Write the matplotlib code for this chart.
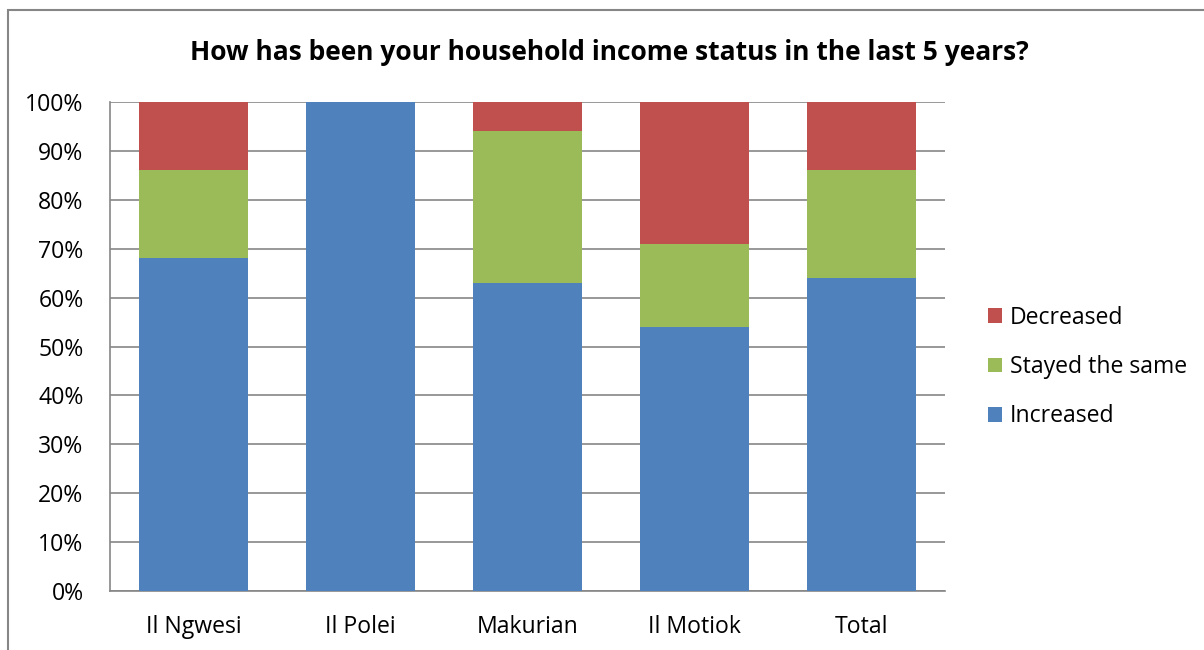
import matplotlib
matplotlib.use("Agg")
import matplotlib.pyplot as plt
import numpy as np
from matplotlib.patches import Rectangle

plt.rcParams['font.family'] = ['Open Sans', 'DejaVu Sans']

categories = ["Il Ngwesi", "Il Polei", "Makurian", "Il Motiok", "Total"]
increased = [68, 100, 63, 54, 64]
stayed = [18, 0, 31, 17, 22]
decreased = [14, 0, 6, 29, 14]

colors = {"Increased": "#4F81BD", "Stayed the same": "#9BBB59", "Decreased": "#C0504D"}

fig = plt.figure(figsize=(12.04, 6.5), dpi=100)
ax = fig.add_axes([110 / 1204, 59 / 650, 835 / 1204, 489 / 650])

x = np.arange(len(categories))
w = 0.65
inc = np.array(increased)
sta = np.array(stayed)
dec = np.array(decreased)
b1 = ax.bar(x, inc, w, color=colors["Increased"], label="Increased", zorder=3)
b2 = ax.bar(x, sta, w, bottom=inc, color=colors["Stayed the same"], label="Stayed the same", zorder=3)
b3 = ax.bar(x, dec, w, bottom=inc + sta, color=colors["Decreased"], label="Decreased", zorder=3)

ax.set_xlim(-0.5, len(categories) - 0.5)
ax.set_ylim(0, 100)
ax.set_yticks(np.arange(0, 101, 10))
ax.set_yticklabels([f"{v}%" for v in range(0, 101, 10)], fontsize=16.6)
ax.set_xticks(x)
ax.set_xticklabels(categories, fontsize=16.6)
ax.tick_params(axis='y', length=0, pad=19)
ax.tick_params(axis='x', length=0, pad=17)
ax.yaxis.grid(True, color="#868686", linewidth=1.2, zorder=0)
for s in ["top", "right"]:
    ax.spines[s].set_visible(False)
for s in ["left", "bottom"]:
    ax.spines[s].set_color("#868686")
    ax.spines[s].set_linewidth(1.2)

handles = [b3, b2, b1]
leg = fig.legend(handles, ["Decreased", "Stayed the same", "Increased"],
                 loc="center left", bbox_to_anchor=(967 / 1204, 1 - 367 / 650),
                 frameon=False, fontsize=16.6, handlelength=0.6, handleheight=0.6,
                 handletextpad=0.35, labelspacing=1.1)

fig.text(609 / 1204, 1 - 52 / 650, "How has been your household income status in the last 5 years?",
         ha="center", va="center", fontsize=19, fontweight="bold")

fig.patches.append(Rectangle((8 / 1204, -0.1), 1.2, 1 - 10 / 650 + 0.1, transform=fig.transFigure,
                             fill=False, edgecolor="#868686", linewidth=1.5))

fig.savefig("out.png", dpi=100)
